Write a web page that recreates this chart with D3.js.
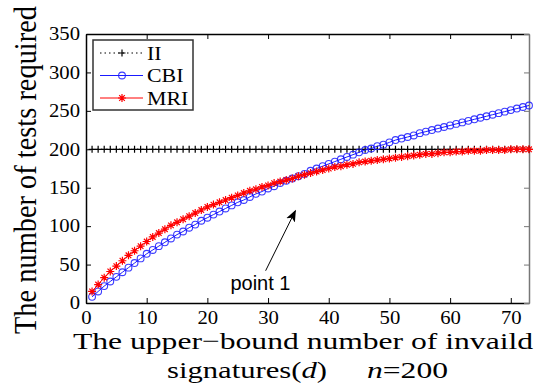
<!DOCTYPE html>
<html>
<head>
<meta charset="utf-8">
<script src="https://cdn.jsdelivr.net/npm/d3@7"></script>
<style>
	html, body { margin: 0; padding: 0; background: #fff; }
	svg { display: block; }
	svg text { font-family: "Liberation Serif", "Times New Roman", Times, serif; fill: #000; }
</style>
</head>
<body>
<svg id="chart" width="538" height="385"></svg>
<script>
"use strict";

// upper bound d (x axis)
const d_values = [1, 2, 3, 4, 5, 6, 7, 8, 9, 10, 11, 12, 13, 14, 15, 16, 17, 18, 19, 20,
	21, 22, 23, 24, 25, 26, 27, 28, 29, 30, 31, 32, 33, 34, 35, 36, 37, 38, 39, 40,
	41, 42, 43, 44, 45, 46, 47, 48, 49, 50, 51, 52, 53, 54, 55, 56, 57, 58, 59, 60,
	61, 62, 63, 64, 65, 66, 67, 68, 69, 70, 71, 72, 73];

const ii_values = [200, 200, 200, 200, 200, 200, 200, 200, 200, 200, 200, 200, 200, 200, 200, 200, 200, 200, 200, 200,
	200, 200, 200, 200, 200, 200, 200, 200, 200, 200, 200, 200, 200, 200, 200, 200, 200, 200, 200, 200,
	200, 200, 200, 200, 200, 200, 200, 200, 200, 200, 200, 200, 200, 200, 200, 200, 200, 200, 200, 200,
	200, 200, 200, 200, 200, 200, 200, 200, 200, 200, 200, 200, 200];

const cbi_values = [8, 15, 22, 28, 34, 40, 46, 52, 58, 64, 69, 74, 79, 84, 89, 93, 98, 102, 107, 111,
	115, 119, 123, 127, 131, 134, 138, 142, 145, 149, 152, 156, 159, 162, 165, 168, 172, 175, 178, 181,
	184, 187, 190, 193, 196, 199, 201, 204, 206, 209, 212, 214, 216, 218, 221, 223, 225, 227, 229, 231,
	233, 235, 237, 239, 241, 243, 245, 247, 249, 251, 253, 255, 257];

const mri_values = [15, 24, 33, 41, 48, 55, 62, 68, 74, 80, 86, 91, 96, 101, 105, 109, 113, 117, 121, 125,
	128, 131, 134, 137, 140, 143, 146, 148, 151, 153, 156, 158, 160, 162, 165, 167, 169, 171, 173, 175,
	177, 178, 180, 181, 183, 184, 185, 186, 187, 188, 189, 190, 191, 192, 193, 194, 194, 195, 196, 196,
	197, 197, 198, 198, 198, 199, 199, 199, 199, 200, 200, 200, 200];

const x_ticks = [0, 10, 20, 30, 40, 50, 60, 70];
const y_ticks = [0, 50, 100, 150, 200, 250, 300, 350];
const series_names = ['II', 'CBI', 'MRI'];

// annotation in data units: tail, tip, label position
const note = { text: 'point 1', tail: [29.6, 42], tip: [34.5, 120], label: [23.8, 17] };

(() => {
	const serif = '"Liberation Serif", "Times New Roman", Times, serif';
	const svg = d3.select('#chart').style('font-family', serif);
	const margin = { left: 86, right: 9, top: 34, bottom: 82 };
	const width = 538 - margin.left - margin.right;
	const height = 385 - margin.top - margin.bottom;

	const x = d3.scaleLinear().domain([0, 73]).range([margin.left, margin.left + width]);
	const y = d3.scaleLinear().domain([0, 350]).range([margin.top + height, margin.top]);

	// the reference glyphs are a bit wider than they are tall
	const stretch = 1.15;
	const put_text = (g, str, px, py, size, anchor, k) => {
		return g.append('text')
			.attr('transform', `translate(${px},${py}) scale(${k || stretch},1)`)
			.attr('text-anchor', anchor || 'start')
			.style('font-family', serif)
			.style('font-size', `${size}px`)
			.text(str);
	};

	// frame + ticks (inward, matlab style)
	const style_axis = (g, col) => {
		g.attr('font-family', null);
		g.selectAll('path.domain').attr('stroke', col).attr('stroke-width', 1.5);
		g.selectAll('.tick line').attr('stroke', col).attr('stroke-width', 1);
	};
	const ax_bottom = svg.append('g')
		.attr('transform', `translate(0,${margin.top + height})`)
		.call(d3.axisBottom(x).tickValues(x_ticks).tickSize(-5).tickSizeOuter(0).tickPadding(8));
	const ax_left = svg.append('g')
		.attr('transform', `translate(${margin.left},0)`)
		.call(d3.axisLeft(y).tickValues(y_ticks).tickSize(-5).tickSizeOuter(0).tickPadding(6));
	const ax_top = svg.append('g')
		.attr('transform', `translate(0,${margin.top})`)
		.call(d3.axisTop(x).tickValues(x_ticks).tickSize(-5).tickSizeOuter(0).tickFormat(''));
	const ax_right = svg.append('g')
		.attr('transform', `translate(${margin.left + width},0)`)
		.call(d3.axisRight(y).tickValues(y_ticks).tickSize(-5).tickSizeOuter(0).tickFormat(''));
	style_axis(ax_bottom, '#000');
	style_axis(ax_left, '#000');
	style_axis(ax_top, '#000');
	style_axis(ax_right, '#777');
	[ax_bottom, ax_left].forEach((g) => {
		g.selectAll('.tick text')
			.style('font-family', serif)
			.style('font-size', '18px')
			.attr('fill', '#000');
	});
	ax_bottom.selectAll('.tick text')
		.attr('transform', `scale(${stretch},1)`)
		.attr('x', 0);
	ax_left.selectAll('.tick text')
		.attr('transform', `translate(-6,0) scale(${stretch},1)`)
		.attr('x', 0);

	// series
	const series = [
		{ name: 'II', values: ii_values, color: '#000', dash: '1.5,3', marker: 'plus' },
		{ name: 'CBI', values: cbi_values, color: '#1a1aff', dash: null, marker: 'circle' },
		{ name: 'MRI', values: mri_values, color: '#ff0000', dash: null, marker: 'star' },
	];
	const marker_path = {
		plus: 'M-3.5,0H3.5M0,-3.5V3.5',
		star: 'M-4,0H4M0,-4V4M-2.8,-2.8L2.8,2.8M-2.8,2.8L2.8,-2.8',
	};
	const line = d3.line().x((d) => x(d[0])).y((d) => y(d[1]));

	const draw_marker = (g, kind, color, px, py) => {
		if(kind == 'circle') {
			g.append('circle')
				.attr('cx', px).attr('cy', py).attr('r', 3.4)
				.attr('fill', 'none').attr('stroke', color).attr('stroke-width', 1.1)
				.attr('stroke-opacity', 0.85);
		} else {
			g.append('path')
				.attr('transform', `translate(${px},${py})`)
				.attr('d', marker_path[kind])
				.attr('fill', 'none').attr('stroke', color).attr('stroke-width', 1.2);
		}
	};

	series.forEach((s) => {
		const pts = d_values.map((d, i) => [d, s.values[i]]);
		const g = svg.append('g').attr('class', `series-${s.name}`);
		g.append('path')
			.datum(pts)
			.attr('d', line)
			.attr('fill', 'none')
			.attr('stroke', s.color)
			.attr('stroke-width', 1)
			.attr('stroke-dasharray', s.dash);
		pts.forEach((p) => draw_marker(g, s.marker, s.color, x(p[0]), y(p[1])));
	});

	// legend
	const lg = svg.append('g').attr('class', 'legend');
	lg.append('rect')
		.attr('x', 93).attr('y', 40).attr('width', 100).attr('height', 70)
		.attr('fill', '#fff').attr('stroke', '#333').attr('stroke-width', 1.5);
	series.forEach((s, i) => {
		const ly = 53 + i * 22.5;
		lg.append('line')
			.attr('x1', 100).attr('x2', 143).attr('y1', ly).attr('y2', ly)
			.attr('stroke', s.color).attr('stroke-width', 1)
			.attr('stroke-dasharray', s.dash);
		draw_marker(lg, s.marker, s.color, 122, ly);
		put_text(lg, series_names[i], 147, ly + 6.5, 19);
	});

	// annotation
	svg.append('defs').append('marker')
		.attr('id', 'arrow-head')
		.attr('viewBox', '0 0 10 10')
		.attr('refX', 9).attr('refY', 5)
		.attr('markerWidth', 12).attr('markerHeight', 12)
		.attr('markerUnits', 'userSpaceOnUse')
		.attr('orient', 'auto')
		.append('path')
		.attr('d', 'M0,1L10,5L0,9L2.5,5Z')
		.attr('fill', '#000');
	svg.append('line')
		.attr('x1', x(note.tail[0])).attr('y1', y(note.tail[1]))
		.attr('x2', x(note.tip[0])).attr('y2', y(note.tip[1]))
		.attr('stroke', '#000').attr('stroke-width', 1)
		.attr('marker-end', 'url(#arrow-head)');
	svg.append('text')
		.attr('x', x(note.label[0])).attr('y', y(note.label[1]))
		.style('font-family', '"Liberation Sans", Arial, sans-serif')
		.style('font-size', '20px')
		.text(note.text);

	// axis titles
	svg.append('text')
		.attr('transform', 'translate(36,170) rotate(-90) scale(1,1.2)')
		.attr('text-anchor', 'middle')
		.style('font-family', serif)
		.style('font-size', '27px')
		.attr('textLength', 328)
		.attr('lengthAdjust', 'spacingAndGlyphs')
		.text('The number of tests required');

	svg.append('text')
		.attr('x', 73).attr('y', 349)
		.style('font-family', serif)
		.style('font-size', '24px')
		.attr('textLength', 460)
		.attr('lengthAdjust', 'spacingAndGlyphs')
		.text('The upper\u2212bound number of invaild');

	const t2 = svg.append('text')
		.attr('x', 167).attr('y', 378)
		.style('font-family', serif)
		.style('font-size', '24px')
		.attr('textLength', 160)
		.attr('lengthAdjust', 'spacingAndGlyphs');
	t2.append('tspan').text('signatures(');
	t2.append('tspan').style('font-style', 'italic').text('d');
	t2.append('tspan').text(')');

	const t3 = svg.append('text')
		.attr('x', 367).attr('y', 378)
		.style('font-family', serif)
		.style('font-size', '24px')
		.attr('textLength', 81)
		.attr('lengthAdjust', 'spacingAndGlyphs');
	t3.append('tspan').style('font-style', 'italic').text('n');
	t3.append('tspan').text('=200');
})();
</script>
</body>
</html>
